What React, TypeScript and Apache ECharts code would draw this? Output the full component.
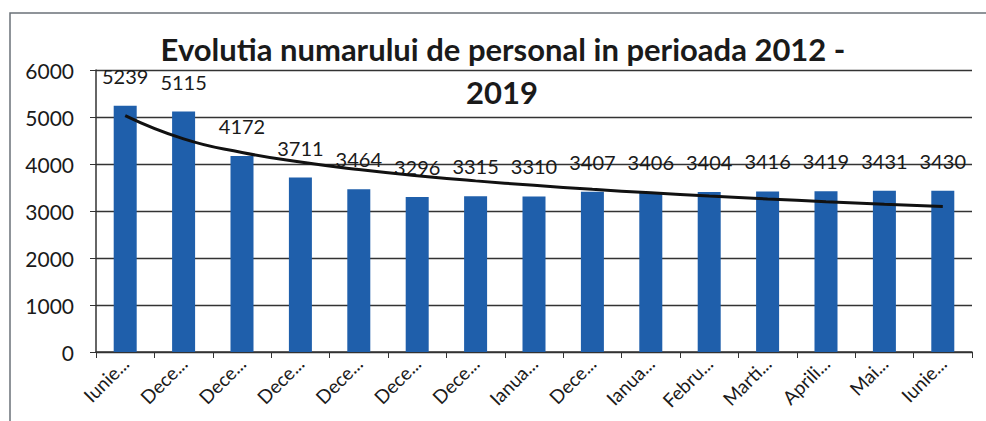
import React, { useEffect, useRef } from "react";
import * as echarts from "echarts";

const categories = [
  "Iunie...", "Dece...", "Dece...", "Dece...", "Dece...", "Dece...", "Dece...",
  "Ianua...", "Dece...", "Ianua...", "Febru...", "Marti...", "Aprili...", "Mai...", "Iunie...",
];
const personnel = [5239, 5115, 4172, 3711, 3464, 3296, 3315, 3310, 3407, 3406, 3404, 3416, 3419, 3431, 3430];
// logarithmic trend line at each category
const trend = [5030, 4535, 4246, 4041, 3881, 3751, 3641, 3546, 3461, 3386, 3318, 3256, 3199, 3146, 3097];
const yTicks = { min: 0, max: 6000, interval: 1000 };
const titleLines = ["Evolutia numarului de personal in perioada 2012 -", "2019"];

const FONT = "Lato, 'Open Sans', sans-serif";

export default function App() {
  const ref = useRef<HTMLDivElement>(null);
  useEffect(() => {
    if (!ref.current) return;
    const chart = echarts.init(ref.current, null, { renderer: "svg" });
    chart.setOption({
      animation: false,
      backgroundColor: "#ffffff",
      textStyle: { fontFamily: FONT },
      graphic: [
        {
          type: "rect",
          shape: { x: 10, y: 13, width: 1100, height: 600 },
          style: { fill: "none", stroke: "#6b7178", lineWidth: 1.5 },
          silent: true,
          z: -1,
        },
        {
          type: "text",
          x: 503,
          y: 49,
          style: {
            text: titleLines[0],
            fontFamily: FONT,
            fontWeight: "bold",
            fontSize: 31,
            fill: "#1a1a1a",
            textAlign: "center",
            textVerticalAlign: "middle",
          },
          z: 10,
        },
        {
          type: "text",
          x: 502,
          y: 92,
          style: {
            text: titleLines[1],
            fontFamily: FONT,
            fontWeight: "bold",
            fontSize: 31,
            fill: "#1a1a1a",
            textAlign: "center",
            textVerticalAlign: "middle",
          },
          z: 10,
        },
      ],
      grid: { left: 96, right: 14, top: 70, bottom: 69, containLabel: false },
      xAxis: {
        type: "category",
        data: categories,
        boundaryGap: true,
        axisLine: { show: true, lineStyle: { color: "#333", width: 1.5 } },
        axisTick: { show: true, length: 6, lineStyle: { color: "#333" } },
        axisLabel: {
          rotate: 45,
          fontSize: 19,
          color: "#1a1a1a",
          fontFamily: FONT,
          margin: 8,
          interval: 0,
        },
      },
      yAxis: {
        type: "value",
        min: yTicks.min,
        max: yTicks.max,
        interval: yTicks.interval,
        axisLine: { show: true, lineStyle: { color: "#333", width: 1.5 } },
        axisTick: { show: true, length: 6, lineStyle: { color: "#333" } },
        axisLabel: {
          fontSize: 21,
          color: "#1a1a1a",
          fontFamily: FONT,
          margin: 22,
          formatter: (v: number) => String(v),
        },
        splitLine: { show: true, lineStyle: { color: "#333", width: 1.4 } },
      },
      series: [
        {
          type: "bar",
          data: personnel,
          barWidth: 23,
          itemStyle: { color: "#1f5fab" },
          label: {
            show: true,
            position: "top",
            distance: 20,
            fontSize: 20,
            color: "#1a1a1a",
            fontFamily: FONT,
          },
        },
        {
          type: "line",
          data: trend,
          smooth: true,
          symbol: "none",
          lineStyle: { color: "#111", width: 3 },
          z: 5,
        },
      ],
    });
    return () => chart.dispose();
  }, []);
  return (
    <div
      ref={ref}
      style={{ position: "fixed", left: 0, top: 0, width: 986, height: 421 }}
    />
  );
}
